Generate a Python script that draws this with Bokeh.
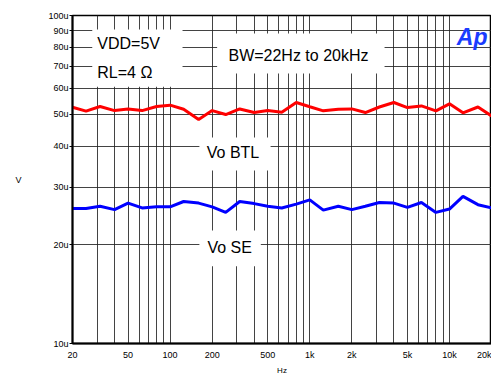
from bokeh.plotting import figure
from bokeh.models import FixedTicker, CustomJSTickFormatter, Label, BoxAnnotation, ColumnDataSource
from bokeh.embed import file_html
from bokeh.resources import INLINE

# ---- data ----
freqs = [20, 25, 31.5, 40, 50, 63, 80, 100, 125, 160, 200, 250, 315, 400, 500, 630, 800,
         1000, 1250, 1600, 2000, 2500, 3150, 4000, 5000, 6300, 8000, 10000, 12500, 16000, 20000]
vo_btl = [52.5, 51.1, 52.8, 51.3, 51.9, 51.3, 52.8, 53.3, 51.8, 48.2, 51.3, 49.9, 51.9, 50.6, 51.3, 50.7, 54.3,
          52.7, 51.2, 51.8, 51.9, 50.6, 52.6, 54.3, 52.4, 53.0, 51.2, 53.8, 50.5, 52.6, 49.4]
vo_se = [25.8, 25.8, 26.2, 25.6, 26.8, 25.9, 26.1, 26.1, 27.1, 26.8, 26.1, 25.1, 27.1, 26.7, 26.2, 25.9, 26.6,
         27.4, 25.5, 26.2, 25.6, 26.2, 26.9, 26.8, 26.0, 26.9, 25.1, 25.7, 28.1, 26.5, 25.9]

x_label_ticks = [20, 50, 100, 200, 500, 1000, 2000, 5000, 10000, 20000]
x_grid_ticks = [20, 30, 40, 50, 60, 70, 80, 90, 100, 200, 300, 400, 500, 600, 700, 800, 900,
                1000, 2000, 3000, 4000, 5000, 6000, 7000, 8000, 9000, 10000, 20000]
y_ticks = [10, 20, 30, 40, 50, 60, 70, 80, 90, 100]

FONT = "Liberation Sans"

p = figure(width=491, height=377, x_axis_type="log", y_axis_type="log",
           x_range=(20, 20000), y_range=(10, 100),
           output_backend="svg", toolbar_location=None,
           min_border_left=72, min_border_right=0, min_border_top=15, min_border_bottom=34)
p.background_fill_color = "white"
p.border_fill_color = "white"
p.outline_line_color = "black"
p.outline_line_width = 1.5

# axes
p.xaxis.ticker = FixedTicker(ticks=x_label_ticks)
p.yaxis.ticker = FixedTicker(ticks=y_ticks)
p.xaxis.formatter = CustomJSTickFormatter(code="return tick >= 1000 ? (tick/1000) + 'k' : String(tick);")
p.yaxis.formatter = CustomJSTickFormatter(code="return tick + 'u';")
for ax in (p.xaxis, p.yaxis):
    ax.axis_line_color = "black"
    ax.axis_line_width = 2
    ax.major_label_text_font = FONT
    ax.major_label_text_font_size = "9px"
    ax.major_label_text_color = "black"
    ax.minor_tick_line_color = None
    ax.major_tick_line_color = "black"
    ax.axis_label_text_font = FONT
    ax.axis_label_text_font_style = "normal"
    ax.axis_label_text_color = "black"
p.xaxis.major_tick_out = 0
p.xaxis.major_tick_in = 0
p.xaxis.major_label_standoff = 6
p.yaxis.major_tick_out = 3
p.yaxis.major_tick_in = 0
p.yaxis.major_label_standoff = 1

p.xaxis.axis_label = "Hz"
p.xaxis.axis_label_text_font_size = "8px"
p.xaxis.axis_label_standoff = 3
p.yaxis.axis_label = "V"
p.yaxis.axis_label_text_font_size = "9px"
p.yaxis.axis_label_standoff = 24
try:
    p.yaxis.axis_label_orientation = "horizontal"
except Exception:
    pass

# grid
p.xgrid.ticker = FixedTicker(ticks=x_grid_ticks)
p.ygrid.ticker = FixedTicker(ticks=y_ticks)
for g in (p.xgrid, p.ygrid):
    g.grid_line_color = "#222222"
    g.grid_line_width = 1
    g.grid_line_alpha = 0.85

src = ColumnDataSource(dict(f=freqs, btl=vo_btl, se=vo_se))
p.line("f", "btl", source=src, line_color="#ff0000", line_width=3)
p.line("f", "se", source=src, line_color="#0000ff", line_width=3)

# white boxes behind annotation texts
boxes = [
    (27.7, 122.7, 60.6, 90.6),
    (217, 3430, 66.5, 88.1),
    (162, 524, 33.7, 42.5),
    (162, 446, 17.2, 22.1),
]
for l, r, b, t in boxes:
    p.add_layout(BoxAnnotation(left=l, right=r, bottom=b, top=t, fill_color="white",
                               fill_alpha=1.0, line_color=None))

texts = [
    (30.1, 82.2, "VDD=5V", "left"),
    (30.1, 67.0, "RL=4 Ω", "left"),
    (830, 75.5, "BW=22Hz to 20kHz", "center"),
    (282, 38.2, "Vo BTL", "center"),
    (267, 19.6, "Vo SE", "center"),
]
for x, y, t, a in texts:
    p.add_layout(Label(x=x, y=y, text=t, text_font=FONT, text_font_size="16px",
                       text_align=a, text_baseline="middle", text_color="black"))

# logo
p.add_layout(Label(x=11300, y=85.7, text="Ap", text_font=FONT, text_font_size="23px",
                   text_font_style="bold italic", text_color="#1a3cff",
                   text_align="left", text_baseline="alphabetic"))

open("out.html", "w").write(file_html(p, INLINE))
